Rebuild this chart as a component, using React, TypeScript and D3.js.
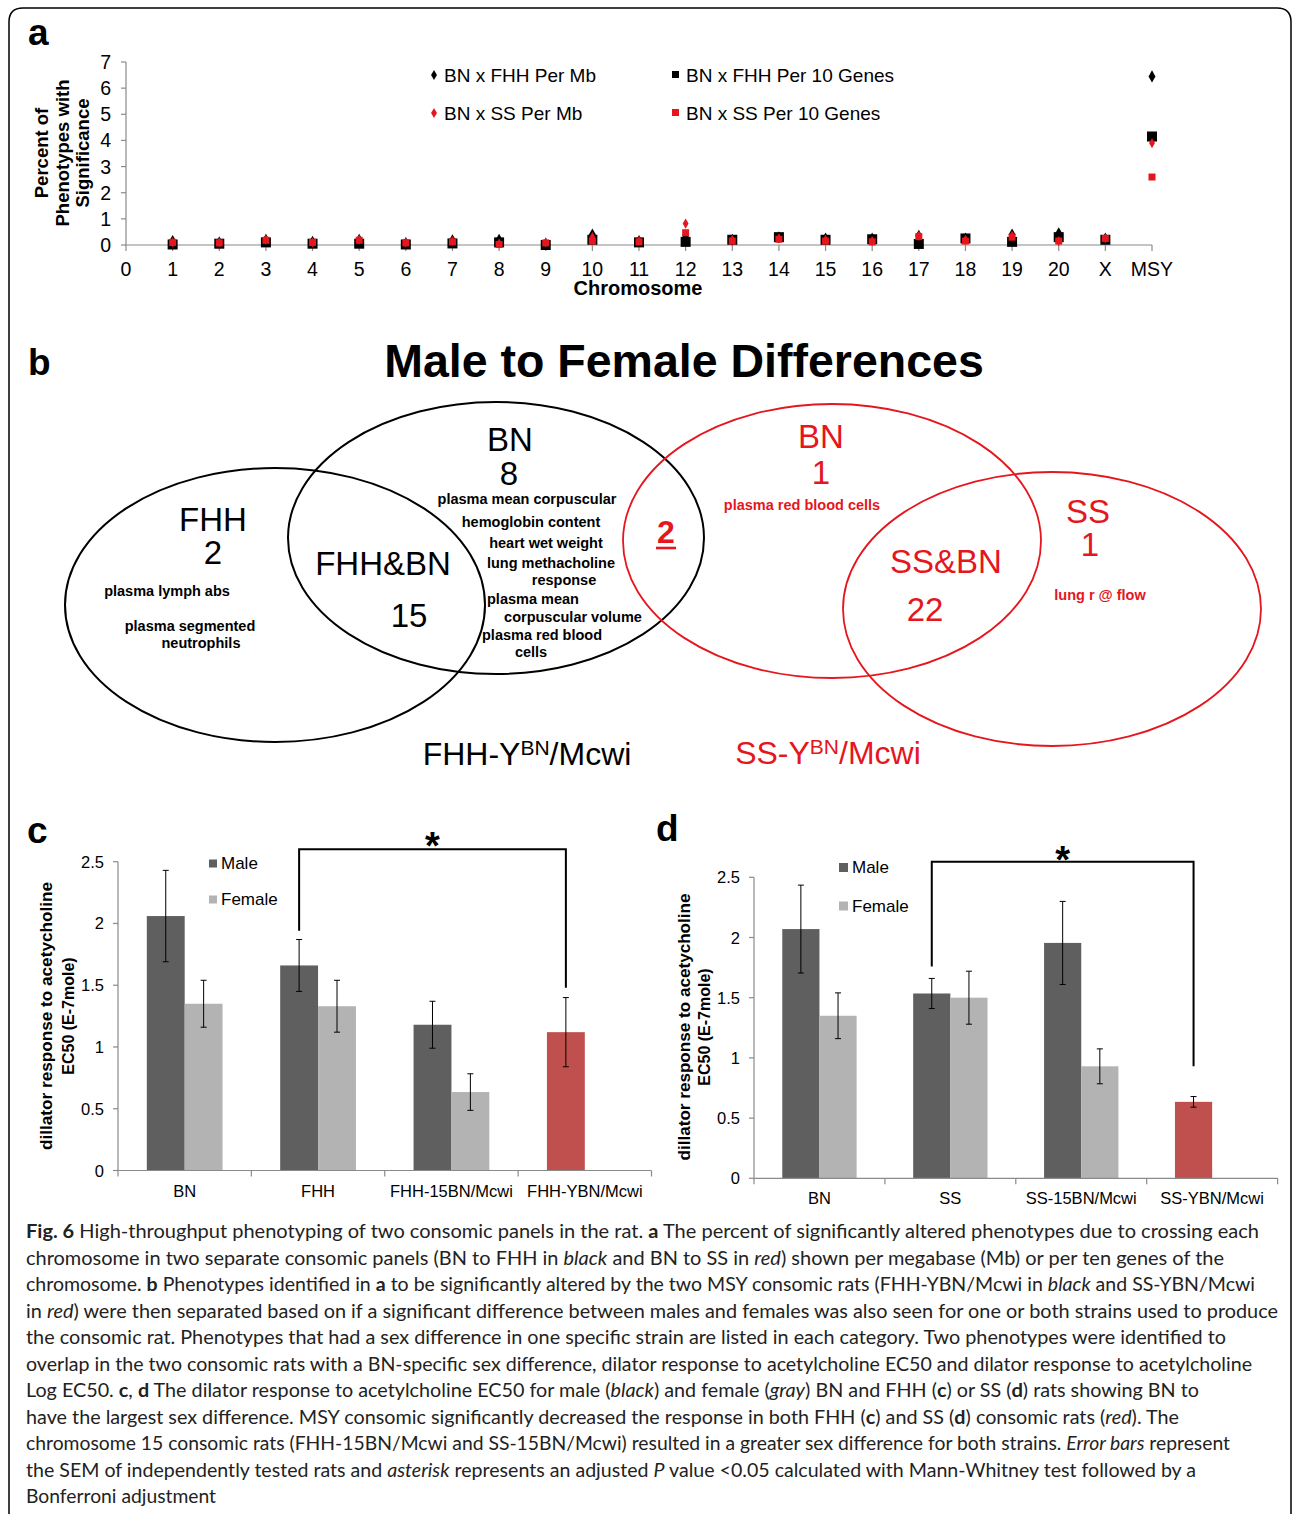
import React from "react";
import * as d3 from "d3";

// ---------- Panel a data ----------
const chromTickLabels = ["0", "1", "2", "3", "4", "5", "6", "7", "8", "9", "10", "11", "12", "13", "14", "15", "16", "17", "18", "19", "20", "X", "MSY"];
const chromData = ["1", "2", "3", "4", "5", "6", "7", "8", "9", "10", "11", "12", "13", "14", "15", "16", "17", "18", "19", "20", "X", "MSY"];
const fhhPerMb = [0.15, 0.1, 0.2, 0.12, 0.2, 0.08, 0.18, 0.2, 0.05, 0.4, 0.15, 0.35, 0.2, 0.3, 0.25, 0.25, 0.35, 0.25, 0.4, 0.45, 0.25, 6.45];
const ssPerMb = [0.1, 0.1, 0.2, 0.1, 0.2, 0.1, 0.15, 0.05, 0.1, 0.3, 0.15, 0.82, 0.2, 0.25, 0.2, 0.15, 0.35, 0.2, 0.35, 0.15, 0.25, 3.9];
const fhhPer10Genes = [0.02, 0.05, 0.1, 0.05, 0.05, 0.02, 0.06, 0.1, 0.0, 0.2, 0.1, 0.12, 0.2, 0.3, 0.2, 0.22, 0.04, 0.25, 0.12, 0.3, 0.2, 4.15];
const ssPer10Genes = [0.1, 0.08, 0.18, 0.1, 0.18, 0.08, 0.12, 0.02, 0.08, 0.15, 0.12, 0.47, 0.15, 0.22, 0.15, 0.12, 0.32, 0.15, 0.3, 0.15, 0.25, 2.6];
const yTicksA = [0, 1, 2, 3, 4, 5, 6, 7];

// ---------- Panel c data ----------
const cCategories = ["BN", "FHH", "FHH-15BN/Mcwi", "FHH-YBN/Mcwi"];
const cMale = [2.06, 1.66, 1.18];
const cMaleSem = [0.37, 0.21, 0.19];
const cFemale = [1.35, 1.33, 0.635];
const cFemaleSem = [0.19, 0.21, 0.148];
const cMsy = [1.12];
const cMsySem = [0.28];
const cBracket = [2.6, 1.94, 1.48];

// ---------- Panel d data ----------
const dCategories = ["BN", "SS", "SS-15BN/Mcwi", "SS-YBN/Mcwi"];
const dMale = [2.07, 1.535, 1.955];
const dMaleSem = [0.365, 0.125, 0.345];
const dFemale = [1.35, 1.5, 0.93];
const dFemaleSem = [0.19, 0.22, 0.145];
const dMsy = [0.635];
const dMsySem = [0.044];
const dBracket = [2.63, 1.76, 0.93];
const barTicks = [0, 0.5, 1, 1.5, 2, 2.5];

// ---------- caption ----------
type Seg = [string, string];
const captionLines: Seg[][] = [
  [["Fig. 6", "b"], [" High-throughput phenotyping of two consomic panels in the rat. ", ""], ["a", "b"], [" The percent of significantly altered phenotypes due to crossing each", ""]],
  [["chromosome in two separate consomic panels (BN to FHH in ", ""], ["black", "i"], [" and BN to SS in ", ""], ["red", "i"], [") shown per megabase (Mb) or per ten genes of the", ""]],
  [["chromosome. ", ""], ["b", "b"], [" Phenotypes identified in ", ""], ["a", "b"], [" to be significantly altered by the two MSY consomic rats (FHH-YBN/Mcwi in ", ""], ["black", "i"], [" and SS-YBN/Mcwi", ""]],
  [["in ", ""], ["red", "i"], [") were then separated based on if a significant difference between males and females was also seen for one or both strains used to produce", ""]],
  [["the consomic rat. Phenotypes that had a sex difference in one specific strain are listed in each category. Two phenotypes were identified to", ""]],
  [["overlap in the two consomic rats with a BN-specific sex difference, dilator response to acetylcholine EC50 and dilator response to acetylcholine", ""]],
  [["Log EC50. ", ""], ["c", "b"], [", ", ""], ["d", "b"], [" The dilator response to acetylcholine EC50 for male (", ""], ["black", "i"], [") and female (", ""], ["gray", "i"], [") BN and FHH (", ""], ["c", "b"], [") or SS (", ""], ["d", "b"], [") rats showing BN to", ""]],
  [["have the largest sex difference. MSY consomic significantly decreased the response in both FHH (", ""], ["c", "b"], [") and SS (", ""], ["d", "b"], [") consomic rats (", ""], ["red", "i"], ["). The", ""]],
  [["chromosome 15 consomic rats (FHH-15BN/Mcwi and SS-15BN/Mcwi) resulted in a greater sex difference for both strains. ", ""], ["Error bars", "i"], [" represent", ""]],
  [["the SEM of independently tested rats and ", ""], ["asterisk", "i"], [" represents an adjusted ", ""], ["P", "i"], [" value <0.05 calculated with Mann-Whitney test followed by a", ""]],
  [["Bonferroni adjustment", ""]],
];
const captionWidths = [1233, 1198, 1229, 1252, 1200, 1226, 1173, 1153, 1204, 1170, 190];

const F = "'Liberation Sans', Arial, Helvetica, sans-serif";
const RED = "#e5161d";
const MALE_C = "#5f5f5f";
const FEMALE_C = "#b3b3b3";
const MSY_C = "#c0504d";
const AXIS_C = "#8a8a8a";

function PanelA() {
  const x = d3.scaleLinear().domain([0, chromTickLabels.length - 1]).range([126, 1152]);
  const y = d3.scaleLinear().domain([0, 7]).range([245, 62]);
  const pos = (c: string) => chromTickLabels.indexOf(c);
  const bigDiamond = d3.symbol(d3.symbolDiamond, 42)() as string;
  const smallDiamond = d3.symbol(d3.symbolDiamond, 30)() as string;
  return (
    <g>
      <text x={28} y={45} fontFamily={F} fontWeight="bold" fontSize={37}>a</text>
      {["Percent of", "Phenotypes with", "Significance"].map((t, i) => (
        <text key={t} transform={`translate(${[41, 62, 82][i]},153) rotate(-90)`} textAnchor="middle" dominantBaseline="central" fontFamily={F} fontWeight="bold" fontSize={18.5}>{t}</text>
      ))}
      <line x1={x(0)} x2={x(0)} y1={y(7)} y2={y(0)} stroke={AXIS_C} strokeWidth={1.2} />
      {yTicksA.map((t) => (
        <g key={t}>
          <line x1={x(0) - 5} x2={x(0)} y1={y(t)} y2={y(t)} stroke={AXIS_C} strokeWidth={1.2} />
          <text x={x(0) - 15} y={y(t)} textAnchor="end" dominantBaseline="central" fontFamily={F} fontSize={19.5}>{t}</text>
        </g>
      ))}
      <line x1={x(0)} x2={x(22)} y1={y(0)} y2={y(0)} stroke={AXIS_C} strokeWidth={1.2} />
      {chromTickLabels.map((c, i) => (
        <g key={c}>
          <line x1={x(i)} x2={x(i)} y1={y(0)} y2={y(0) + 6} stroke={AXIS_C} strokeWidth={1.2} />
          <text x={x(i)} y={276} textAnchor="middle" fontFamily={F} fontSize={19.5}>{c}</text>
        </g>
      ))}
      <text x={638} y={295} textAnchor="middle" fontFamily={F} fontWeight="bold" fontSize={20}>Chromosome</text>
      {chromData.map((c, i) => (
        <path key={"fm" + c} d={bigDiamond} transform={`translate(${x(pos(c))},${y(fhhPerMb[i])})`} fill="#000" />
      ))}
      {chromData.map((c, i) => (
        <rect key={"fg" + c} x={x(pos(c)) - 5} y={y(fhhPer10Genes[i]) - 5} width={10} height={10} fill="#000" />
      ))}
      {chromData.map((c, i) => (
        <path key={"sm" + c} d={smallDiamond} transform={`translate(${x(pos(c))},${y(ssPerMb[i])})`} fill={RED} />
      ))}
      {chromData.map((c, i) => (
        <rect key={"sg" + c} x={x(pos(c)) - 3.5} y={y(ssPer10Genes[i]) - 3.5} width={7} height={7} fill={RED} />
      ))}
      <path d={smallDiamond} transform="translate(434,75)" fill="#000" />
      <text x={444} y={82} fontFamily={F} fontSize={19}>BN x FHH Per Mb</text>
      <path d={smallDiamond} transform="translate(434,113)" fill={RED} />
      <text x={444} y={120} fontFamily={F} fontSize={19}>BN x SS Per Mb</text>
      <rect x={672} y={71} width={7} height={7} fill="#000" />
      <text x={686} y={82} fontFamily={F} fontSize={19}>BN x FHH Per 10 Genes</text>
      <rect x={672} y={109} width={7} height={7} fill={RED} />
      <text x={686} y={120} fontFamily={F} fontSize={19}>BN x SS Per 10 Genes</text>
    </g>
  );
}

function PanelB() {
  const small = { fontFamily: F, fontWeight: "bold" as const, fontSize: 14.5 };
  const big = { fontFamily: F, fontSize: 33 };
  return (
    <g>
      <text x={28} y={375} fontFamily={F} fontWeight="bold" fontSize={37}>b</text>
      <text x={684} y={377} textAnchor="middle" fontFamily={F} fontWeight="bold" fontSize={46.5}>Male to Female Differences</text>
      <ellipse cx={275} cy={605} rx={210} ry={137} fill="none" stroke="#000" strokeWidth={2} />
      <ellipse cx={496} cy={538} rx={208} ry={136} fill="none" stroke="#000" strokeWidth={2} />
      <ellipse cx={832} cy={541} rx={209} ry={137} fill="none" stroke={RED} strokeWidth={1.8} />
      <ellipse cx={1052} cy={609} rx={209} ry={137} fill="none" stroke={RED} strokeWidth={1.8} />

      <text x={213} y={531} textAnchor="middle" {...big}>FHH</text>
      <text x={213} y={564} textAnchor="middle" {...big}>2</text>
      <text x={167} y={596} textAnchor="middle" {...small}>plasma lymph abs</text>
      <text x={190} y={631} textAnchor="middle" {...small}>plasma segmented</text>
      <text x={201} y={648} textAnchor="middle" {...small}>neutrophils</text>

      <text x={383} y={575} textAnchor="middle" {...big}>FHH&amp;BN</text>
      <text x={409} y={627} textAnchor="middle" {...big}>15</text>

      <text x={510} y={451} textAnchor="middle" {...big}>BN</text>
      <text x={509} y={485} textAnchor="middle" {...big}>8</text>
      <text x={527} y={504} textAnchor="middle" {...small}>plasma mean corpuscular</text>
      <text x={531} y={527} textAnchor="middle" {...small}>hemoglobin content</text>
      <text x={546} y={548} textAnchor="middle" {...small}>heart wet weight</text>
      <text x={551} y={568} textAnchor="middle" {...small}>lung methacholine</text>
      <text x={564} y={585} textAnchor="middle" {...small}>response</text>
      <text x={487} y={604} {...small}>plasma mean</text>
      <text x={573} y={622} textAnchor="middle" {...small}>corpuscular volume</text>
      <text x={482} y={640} {...small}>plasma red blood</text>
      <text x={531} y={657} textAnchor="middle" {...small}>cells</text>

      <text x={666} y={543} textAnchor="middle" fontFamily={F} fontWeight="bold" fontSize={32} fill={RED}>2</text>
      <line x1={656} x2={676} y1={548} y2={548} stroke={RED} strokeWidth={2.6} />

      <text x={821} y={448} textAnchor="middle" {...big} fill={RED}>BN</text>
      <text x={821} y={484} textAnchor="middle" {...big} fill={RED}>1</text>
      <text x={802} y={510} textAnchor="middle" {...small} fill={RED}>plasma red blood cells</text>

      <text x={946} y={573} textAnchor="middle" {...big} fill={RED}>SS&amp;BN</text>
      <text x={925} y={621} textAnchor="middle" {...big} fill={RED}>22</text>

      <text x={1088} y={523} textAnchor="middle" {...big} fill={RED}>SS</text>
      <text x={1090} y={556} textAnchor="middle" {...big} fill={RED}>1</text>
      <text x={1100} y={600} textAnchor="middle" {...small} fill={RED}>lung r @ flow</text>

      <text x={527} y={765} textAnchor="middle" fontFamily={F} fontSize={32}>
        <tspan>FHH-Y</tspan>
        <tspan fontSize={21} dy={-10}>BN</tspan>
        <tspan dy={10}>/Mcwi</tspan>
      </text>
      <text x={828} y={764} textAnchor="middle" fontFamily={F} fontSize={32} fill={RED}>
        <tspan>SS-Y</tspan>
        <tspan fontSize={21} dy={-10}>BN</tspan>
        <tspan dy={10}>/Mcwi</tspan>
      </text>
    </g>
  );
}

type BarProps = {
  letter: string; letterX: number; letterY: number;
  cats: string[]; male: number[]; maleSem: number[]; female: number[]; femaleSem: number[];
  msy: number[]; msySem: number[]; bracket: number[];
  x0: number; x1: number; y0: number; y1: number;
  titleX: number[]; titleY: number; titleLen: number;
  legX: number; legY: number[]; legSize: number;
  starY: number; xLabelY: number;
};

function BarPanel(p: BarProps) {
  const x = d3.scaleBand().domain(p.cats).range([p.x0, p.x1]);
  const y = d3.scaleLinear().domain([0, 2.5]).range([p.y0, p.y1]);
  const bw = x.bandwidth() * 0.284;
  const center = (c: string) => (x(c) as number) + x.bandwidth() / 2;
  const errBar = (cx: number, v: number, s: number, k: string) => (
    <g key={k} stroke="#000" strokeWidth={1}>
      <line x1={cx} x2={cx} y1={y(v + s)} y2={y(v - s)} />
      <line x1={cx - 3} x2={cx + 3} y1={y(v + s)} y2={y(v + s)} />
      <line x1={cx - 3} x2={cx + 3} y1={y(v - s)} y2={y(v - s)} />
    </g>
  );
  const lastCat = p.cats[p.cats.length - 1];
  const bL = center(p.cats[1]) - bw / 2;
  const bR = center(lastCat) - bw / 2;
  return (
    <g>
      <text x={p.letterX} y={p.letterY} fontFamily={F} fontWeight="bold" fontSize={37}>{p.letter}</text>
      <text transform={`translate(${p.titleX[0]},${p.titleY}) rotate(-90)`} textAnchor="middle" dominantBaseline="central" fontFamily={F} fontWeight="bold" fontSize={16} textLength={p.titleLen} lengthAdjust="spacingAndGlyphs">dillator response to acetycholine</text>
      <text transform={`translate(${p.titleX[1]},${p.titleY}) rotate(-90)`} textAnchor="middle" dominantBaseline="central" fontFamily={F} fontWeight="bold" fontSize={16}>EC50 (E-7mole)</text>
      {p.cats.slice(0, 3).map((c, i) => (
        <g key={c}>
          <rect x={center(c) - bw} y={y(p.male[i])} width={bw} height={y(0) - y(p.male[i])} fill={MALE_C} />
          <rect x={center(c)} y={y(p.female[i])} width={bw} height={y(0) - y(p.female[i])} fill={FEMALE_C} />
        </g>
      ))}
      <rect x={center(lastCat) - bw} y={y(p.msy[0])} width={bw} height={y(0) - y(p.msy[0])} fill={MSY_C} />
      {p.cats.slice(0, 3).map((c, i) => errBar(center(c) - bw / 2, p.male[i], p.maleSem[i], "em" + c))}
      {p.cats.slice(0, 3).map((c, i) => errBar(center(c) + bw / 2, p.female[i], p.femaleSem[i], "ef" + c))}
      {errBar(bR, p.msy[0], p.msySem[0], "emsy")}
      <line x1={p.x0} x2={p.x0} y1={y(2.5)} y2={y(0)} stroke={AXIS_C} strokeWidth={1.2} />
      {barTicks.map((t) => (
        <g key={t}>
          <line x1={p.x0 - 5} x2={p.x0} y1={y(t)} y2={y(t)} stroke={AXIS_C} strokeWidth={1.2} />
          <text x={p.x0 - 14} y={y(t)} textAnchor="end" dominantBaseline="central" fontFamily={F} fontSize={16.5}>{t}</text>
        </g>
      ))}
      <line x1={p.x0} x2={p.x1} y1={y(0)} y2={y(0)} stroke={AXIS_C} strokeWidth={1.2} />
      {[...p.cats.map((c) => x(c) as number), p.x1].map((v, i) => (
        <line key={i} x1={v} x2={v} y1={y(0)} y2={y(0) + 6} stroke={AXIS_C} strokeWidth={1.2} />
      ))}
      {p.cats.map((c) => (
        <text key={c} x={center(c)} y={p.xLabelY} textAnchor="middle" fontFamily={F} fontSize={16.5}>{c}</text>
      ))}
      <rect x={p.legX} y={p.legY[0] - p.legSize / 2} width={p.legSize} height={p.legSize} fill={MALE_C} />
      <text x={p.legX + p.legSize + 4} y={p.legY[0]} dominantBaseline="central" fontFamily={F} fontSize={17}>Male</text>
      <rect x={p.legX} y={p.legY[1] - p.legSize / 2} width={p.legSize} height={p.legSize} fill={FEMALE_C} />
      <text x={p.legX + p.legSize + 4} y={p.legY[1]} dominantBaseline="central" fontFamily={F} fontSize={17}>Female</text>
      <path d={`M${bL},${y(p.bracket[1])} V${y(p.bracket[0])} H${bR} V${y(p.bracket[2])}`} fill="none" stroke="#000" strokeWidth={2} />
      <text x={(bL + bR) / 2} y={p.starY} textAnchor="middle" fontFamily={F} fontWeight="bold" fontSize={38}>*</text>
    </g>
  );
}

function Caption() {
  return (
    <g>
      {captionLines.map((line, i) => (
        <text key={i} x={26} y={1238 + i * 26.5} fontFamily="Lato, 'Open Sans', sans-serif" fontSize={19.5} fill="#222" textLength={captionWidths[i]} lengthAdjust="spacingAndGlyphs">
          {line.map(([t, s], j) => (
            <tspan key={j} fontWeight={s === "b" ? "bold" : "normal"} fontStyle={s === "i" ? "italic" : "normal"}>{t}</tspan>
          ))}
        </text>
      ))}
    </g>
  );
}

export default function App() {
  return (
    <div>
      <style>{`body{margin:0}`}</style>
      <svg width={1292} height={1514} viewBox="0 0 1292 1514" style={{ display: "block", background: "#fff" }}>
        <rect x={0} y={0} width={1292} height={1514} fill="#fff" />
        <path d="M9,1520 V22 Q9,8 23,8 H1277 Q1291,8 1291,22 V1520" fill="none" stroke="#000" strokeWidth={1.5} />
        <PanelA />
        <PanelB />
        <BarPanel letter="c" letterX={27} letterY={843} cats={cCategories} male={cMale} maleSem={cMaleSem} female={cFemale} femaleSem={cFemaleSem} msy={cMsy} msySem={cMsySem} bracket={cBracket}
          x0={118} x1={651.5} y0={1170.5} y1={861.7} titleX={[46, 68]} titleY={1016} titleLen={268}
          legX={209} legY={[863.5, 899.5]} legSize={8} starY={859} xLabelY={1197} />
        <BarPanel letter="d" letterX={656} letterY={841} cats={dCategories} male={dMale} maleSem={dMaleSem} female={dFemale} femaleSem={dFemaleSem} msy={dMsy} msySem={dMsySem} bracket={dBracket}
          x0={754} x1={1277.6} y0={1178.3} y1={877.3} titleX={[684, 704]} titleY={1027} titleLen={267}
          legX={839} legY={[867.5, 906]} legSize={9} starY={873} xLabelY={1204} />
        <Caption />
      </svg>
    </div>
  );
}
